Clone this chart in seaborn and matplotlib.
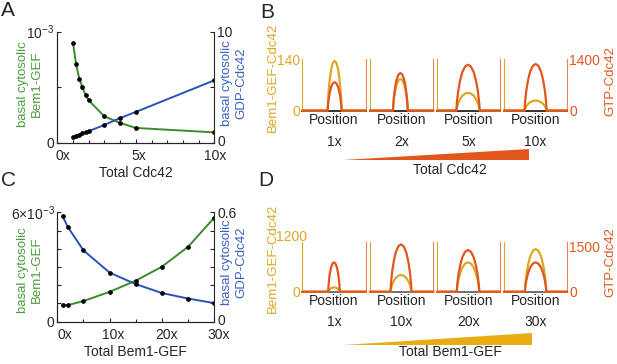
import numpy as np
import pandas as pd
import matplotlib
matplotlib.use("Agg")
import matplotlib.pyplot as plt
from matplotlib.ticker import MultipleLocator
from matplotlib.transforms import ScaledTranslation
import seaborn as sns

# ---- data ----
# A: vary total Cdc42
cdc42_total = [1, 1.2, 1.4, 1.6, 1.8, 2, 3, 4, 5, 10]
gef_basal_a = [0.898, 0.705, 0.578, 0.498, 0.430, 0.381, 0.237, 0.178, 0.133, 0.093]  # x 1e-3
gdp_basal_a = [0.51, 0.62, 0.72, 0.83, 0.93, 1.04, 1.60, 2.22, 2.77, 5.62]

# C: vary total Bem1-GEF
gef_total = [1, 2, 5, 10, 15, 20, 25, 30]
gef_basal_c = [0.91, 0.91, 1.13, 1.64, 2.25, 3.02, 4.11, 5.71]  # x 1e-3
gdp_basal_c = [0.580, 0.520, 0.391, 0.269, 0.206, 0.157, 0.127, 0.102]

# B / D: peak profiles (center, half width in box units, peak heights)
b_labels = ["1x", "2x", "5x", "10x"]
b_center = [0.51, 0.48, 0.49, 0.50]
b_halfwidth = [0.11, 0.117, 0.186, 0.175]
b_gef_peak = [135, 86, 48, 27]
b_gtp_peak = [770, 1020, 1246, 1265]

d_labels = ["1x", "10x", "20x", "30x"]
d_center = [0.50, 0.49, 0.49, 0.50]
d_halfwidth = [0.092, 0.166, 0.18, 0.17]
d_gef_peak = [104, 400, 704, 1024]
d_gtp_peak = [968, 1562, 1375, 968]

# normalised shape of a peak, read from the widest profile
hump_u = [-1, -0.95, -0.85, -0.7, -0.5, -0.25, 0, 0.25, 0.5, 0.7, 0.85, 0.95, 1]
hump_shape = [0, 0.19, 0.41, 0.63, 0.83, 0.96, 1, 0.96, 0.83, 0.63, 0.41, 0.19, 0]

GREEN, GREEN_T = "#3b8a2c", "#4a9e3c"
BLUE, BLUE_T = "#2a52b6", "#3b60c4"
GOLD = "#dca722"
ORANGE = "#e0561c"
ORANGE_SP = "#e8825c"

sns.set_style("ticks")
plt.rcParams['font.family'] = ['Liberation Sans', 'DejaVu Sans']
plt.rcParams['font.size'] = 9.5

W, H = 617, 364
fig = plt.figure(figsize=(W / 100, H / 100), dpi=100)


def box(l, t, r, b):
    return [l / W, 1 - b / H, (r - l) / W, (b - t) / H]


def ftext(px, py, s, **kw):
    fig.text(px / W, 1 - py / H, s, ha="center", va="center", **kw)


def nudge(label, dx, dy):
    label.set_transform(label.get_transform()
                        + ScaledTranslation(dx / 100, dy / 100, fig.dpi_scale_trans))


def line_panel(rect, x, yl, yr, xmax, xmajor, xminor, ylmax, ylstep, yrmax, yrstep,
               xlabels, xshift, yltop, yrtop, xlabel):
    ax = fig.add_axes(rect)
    ax2 = ax.twinx()
    mk = dict(marker="o", markersize=2.6, markerfacecolor="k", markeredgecolor="k")
    sns.lineplot(x=x, y=yl, ax=ax, color=GREEN, lw=1.4, **mk)
    sns.lineplot(x=x, y=yr, ax=ax2, color=BLUE, lw=1.4, **mk)
    ax.set_xlim(0, xmax)
    ax.set_ylim(0, ylmax)
    ax2.set_ylim(0, yrmax)
    ax.set_xticks(np.arange(0, xmax + 0.01, xmajor))
    ax.set_xticklabels(xlabels)
    ax.xaxis.set_minor_locator(MultipleLocator(xminor))
    ax.set_yticks(np.arange(0, ylmax + 1e-9, ylstep))
    ax.set_yticklabels(["0"] + [""] * (len(ax.get_yticks()) - 2) + [yltop])
    ax2.set_yticks(np.arange(0, yrmax + 1e-9, yrstep))
    ax2.set_yticklabels(["0"] + [""] * (len(ax2.get_yticks()) - 2) + [yrtop])
    for a in (ax, ax2):
        a.spines["top"].set_visible(False)
        a.tick_params(which="both", direction="in", length=3, width=0.8, pad=2,
                      labelsize=10)
        a.tick_params(which="minor", length=2)
        a.set_xlabel("")
        a.set_ylabel("")
    ax.spines["right"].set_visible(False)
    ax.tick_params(axis="x", pad=4.5)
    for lab, dx in zip(ax.get_xticklabels(), xshift):
        nudge(lab, dx, 0)
    nudge(ax2.get_yticklabels()[0], 0, 2.5)
    ax.set_xlabel(xlabel, fontsize=10, labelpad=2)
    return ax, ax2


# ---- panel A ----
line_panel(box(57.3, 31.7, 214.3, 142.7), cdc42_total, gef_basal_a, gdp_basal_a,
           10, 5, 1, 1.0, 0.5, 10, 5, ["0x", "5x", "10x"], [6, 3, 1],
           r"$\mathregular{10^{-3}}$", "10", "Total Cdc42")
ftext(30, 84, "basal cytosolic\nBem1-GEF", rotation=90, color=GREEN_T, fontsize=9.5,
      linespacing=1.25)
ftext(234, 83, "basal cytosolic\nGDP-Cdc42", rotation=90, color=BLUE_T, fontsize=9.5,
      linespacing=1.25)

# ---- panel C ----
line_panel(box(57.3, 212.3, 214.3, 321.7), gef_total, gef_basal_c, gdp_basal_c,
           30, 10, 5, 6.0, 1.0, 0.6, 0.1, ["0x", "10x", "20x", "30x"], [8, 4, 5, 4],
           r"6×$\mathregular{10^{-3}}$", "0.6", "Total Bem1-GEF")
ftext(30, 270, "basal cytosolic\nBem1-GEF", rotation=90, color=GREEN_T, fontsize=9.5,
      linespacing=1.25)
ftext(234, 262, "basal cytosolic\nGDP-Cdc42", rotation=90, color=BLUE_T, fontsize=9.5,
      linespacing=1.25)


# ---- profile panels B and D ----
box_x = [(302.3, 365.7), (370, 433.3), (437.3, 500), (504, 567.2)]


def profile_row(top, bottom, labels, centers, halfw, gef_pk, gtp_pk,
                gef_max, gtp_max, gtp_tick, base_color, y_lab, y_cond, top_nudge):
    for i, (l, r) in enumerate(box_x):
        ax = fig.add_axes(box(l, top, r, bottom))
        ax2 = ax.twinx()
        xs = [0] + [centers[i] + halfw[i] * u for u in hump_u] + [1]
        prof = pd.DataFrame({
            "pos": xs,
            "gef": [0] + [gef_pk[i] * s for s in hump_shape] + [0],
            "gtp": [0] + [gtp_pk[i] * s for s in hump_shape] + [0],
        })
        sns.lineplot(data=prof, x="pos", y="gef", ax=ax, color=GOLD, lw=1.6,
                     sort=False, zorder=3, clip_on=False)
        sns.lineplot(data=prof, x="pos", y="gtp", ax=ax2, color=ORANGE, lw=1.6,
                     sort=False, zorder=3, clip_on=False)
        ax.set_xlim(0, 1)
        ax.set_ylim(0, gef_max)
        ax2.set_ylim(0, gtp_max)
        for a in (ax, ax2):
            a.spines["top"].set_visible(False)
            a.set_xticks([])
            a.set_ylabel("")
            a.tick_params(length=0, pad=1.5, labelsize=10)
        ax.spines["right"].set_visible(False)
        ax2.spines["left"].set_visible(False)
        ax2.spines["bottom"].set_visible(False)
        ax.spines["left"].set_color(GOLD)
        ax2.spines["right"].set_color(ORANGE_SP)
        ax.spines["bottom"].set_color(base_color)
        ax.spines["bottom"].set_linewidth(1.4)
        if i == 0:
            ax.set_yticks([0, gef_max])
            ax.set_yticklabels(["0", str(gef_max)], color=GOLD)
            nudge(ax.get_yticklabels()[1], *top_nudge)
        else:
            ax.set_yticks([])
        if i == 3:
            ax2.set_yticks([0, gtp_tick])
            ax2.set_yticklabels(["0", str(gtp_tick)], color=ORANGE)
        else:
            ax2.set_yticks([])
        ax.set_xlabel("Position", fontsize=10, labelpad=2)
        ftext((l + r) / 2, y_cond, labels[i], fontsize=10)
    ftext(273, y_lab, "Bem1-GEF-Cdc42", rotation=90, color=GOLD, fontsize=9.5)
    ftext(610, y_lab + 4, "GTP-Cdc42", rotation=90, color=ORANGE, fontsize=9.5)


profile_row(59, 110.5, b_labels, b_center, b_halfwidth, b_gef_peak, b_gtp_peak,
            140, 1400, 1400, "#333333", 77, 142, (0, 0))
profile_row(241.7, 291.7, d_labels, d_center, d_halfwidth, d_gef_peak, d_gtp_peak,
            1200, 1650, 1500, "#707070", 258, 322, (7, 6))


# gradient wedges for the total amount
def wedge(l, t, r, b, color, label, ly):
    ax = fig.add_axes(box(l, t, r, b))
    ax.fill([0, 1, 1], [0, 0, 1], color=color, lw=0)
    ax.set_xlim(0, 1)
    ax.set_ylim(0, 1)
    ax.axis("off")
    ftext(450, ly, label, fontsize=10)


wedge(343, 149, 529, 160, ORANGE, "Total Cdc42", 170)
wedge(343, 333, 532, 345, "#e8ad14", "Total Bem1-GEF", 352)

# panel letters
ftext(8, 10, "A", fontsize=15)
ftext(267, 12, "B", fontsize=15)
ftext(8, 181, "C", fontsize=15)
ftext(266, 181, "D", fontsize=15)

fig.savefig("out.png", dpi=100)
